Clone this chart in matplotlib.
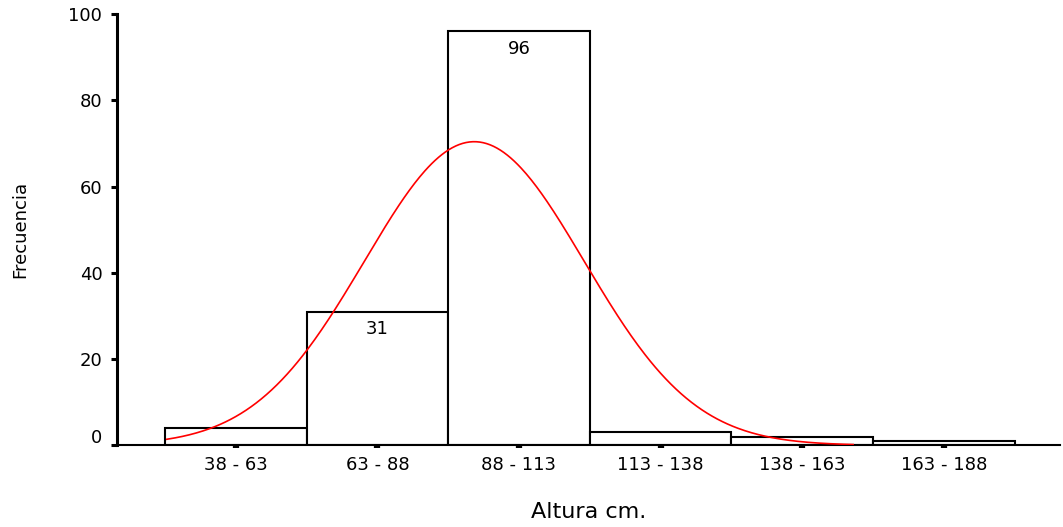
import numpy as np
import matplotlib.pyplot as plt
import matplotlib.transforms as mtransforms

plt.rcParams['font.family'] = ['DejaVu Sans']

# Histogram of heights (cm) with fitted normal curve
bin_edges = [38, 63, 88, 113, 138, 163, 188]
bin_labels = ['38 - 63', '63 - 88', '88 - 113', '113 - 138', '138 - 163', '163 - 188']
counts = [4, 31, 96, 3, 2, 1]
labelled = {1: 31, 2: 96}   # bars whose count is written inside

# normal fit parameters
mu = 92.6
sigma = 19.4
curve_range = (38.3, 159.5)

edges = np.array(bin_edges, dtype=float)
widths = np.diff(edges)
centers = edges[:-1] + widths / 2
n_total = sum(counts)

fig = plt.figure(figsize=(10.63, 5.27), dpi=100)
ax = fig.add_axes([0.110, 0.155, 0.887, 0.818])

ax.bar(edges[:-1], counts, width=widths, align='edge',
       facecolor='white', edgecolor='black', linewidth=1.5, zorder=2)

for i, v in labelled.items():
    ax.annotate(str(v), (centers[i], v), xytext=(0, -6), textcoords='offset points',
                ha='center', va='top', fontsize=13, zorder=4)

xs = np.linspace(curve_range[0], curve_range[1], 400)
ys = n_total * widths[0] / (sigma * np.sqrt(2 * np.pi)) * np.exp(-0.5 * ((xs - mu) / sigma) ** 2)
ax.plot(xs, ys, color='red', linewidth=1.2, zorder=3)

ax.set_xlim(29.5, 196)
ax.set_ylim(0, 100)
ax.set_xticks(centers)
ax.set_xticklabels(bin_labels, fontsize=13)
ax.set_yticks([0, 20, 40, 60, 80, 100])
ax.tick_params(axis='x', length=2.5, width=4.5, pad=5)
ax.tick_params(axis='y', length=4.5, width=2.2, pad=6, labelsize=13)

for s in ['top', 'right']:
    ax.spines[s].set_visible(False)
ax.spines['left'].set_linewidth(2.2)
ax.spines['bottom'].set_linewidth(1.5)

# nudge the zero label up a little
zero_lbl = ax.get_yticklabels()[0]
zero_lbl.set_transform(zero_lbl.get_transform() +
                       mtransforms.ScaledTranslation(0, 7 / 72, fig.dpi_scale_trans))

ax.set_ylabel('Frecuencia', fontsize=13, labelpad=28)
ax.set_xlabel('Altura cm.', fontsize=16, labelpad=20)

fig.savefig('out.png', dpi=100)
